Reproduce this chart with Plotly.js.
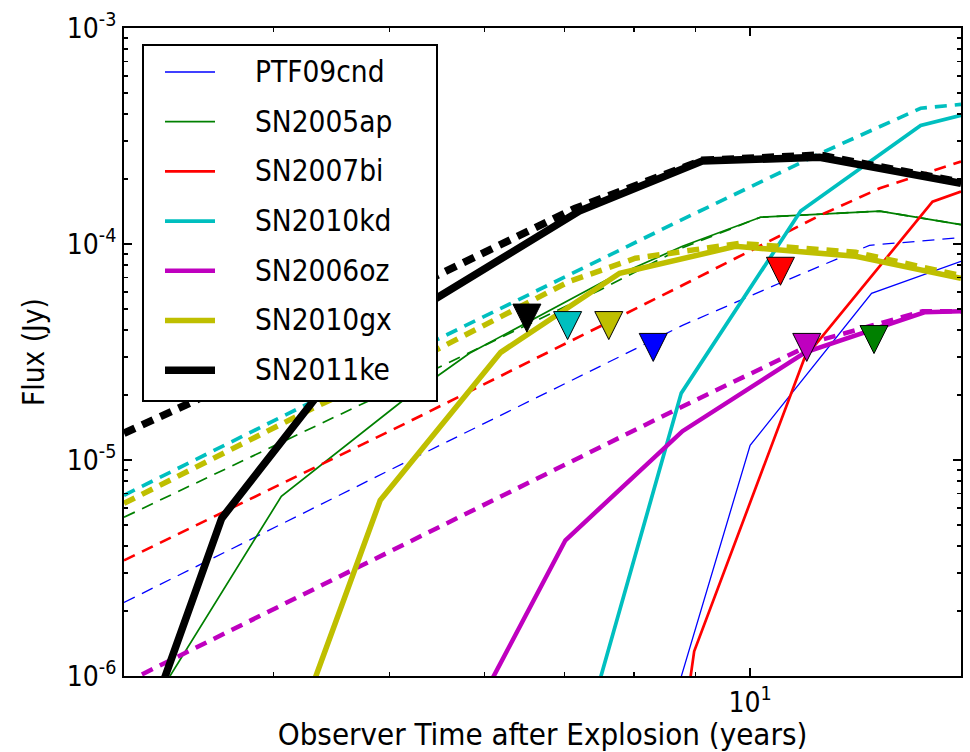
<!DOCTYPE html>
<html>
<head>
<meta charset="utf-8">
<script src="https://cdn.plot.ly/plotly-3.0.1.min.js"></script>
<style>html,body{margin:0;padding:0;background:#fff;}#chart{width:970px;height:752px;}</style>
</head>
<body>
<div id="chart"></div>
<script>
// ---- data (years, Jy) ----
const names = ["PTF09cnd","SN2005ap","SN2007bi","SN2010kd","SN2006oz","SN2010gx","SN2011ke"];

const PTF09cnd_solid_t = [8.64, 10.0, 12.63, 15.0];
const PTF09cnd_solid_f = [7.7e-7, 1.17e-5, 5.91e-5, 8.32e-5];
const PTF09cnd_dash_t  = [3.0, 5.20, 7.82, 8.78, 10.58, 12.58, 15.0];
const PTF09cnd_dash_f  = [2.19e-6, 1.0e-5, 3.05e-5, 4.2e-5, 6.58e-5, 9.86e-5, 1.07e-4];

const SN2005ap_solid_t = [3.146, 4.06, 5.12, 5.83, 7.58, 8.78, 10.2, 12.83, 15.0];
const SN2005ap_solid_f = [6.93e-7, 6.79e-6, 1.87e-5, 3.12e-5, 6.79e-5, 9.76e-5, 1.33e-4, 1.42e-4, 1.23e-4];
const SN2005ap_dash_t  = [3.0, 5.09, 7.48, 8.78, 10.2, 12.83, 15.0];
const SN2005ap_dash_f  = [5.43e-6, 2.19e-5, 6.1e-5, 9.6e-5, 1.33e-4, 1.42e-4, 1.23e-4];

const SN2007bi_solid_t = [8.86, 8.98, 11.10, 14.2, 15.0];
const SN2007bi_solid_f = [7.7e-7, 1.30e-6, 2.96e-5, 1.57e-4, 1.75e-4];
const SN2007bi_dash_t  = [3.0, 5.12, 8.78, 11.45, 12.83, 15.0];
const SN2007bi_dash_f  = [3.43e-6, 1.45e-5, 6.44e-5, 1.36e-4, 1.81e-4, 2.41e-4];

const SN2010kd_solid_t = [7.34, 8.76, 11.02, 13.88, 15.0];
const SN2010kd_solid_f = [6.44e-7, 2.04e-5, 1.42e-4, 3.54e-4, 3.94e-4];
const SN2010kd_dash_t  = [3.0, 5.46, 8.78, 11.45, 13.88, 15.0];
const SN2010kd_dash_f  = [6.87e-6, 3.58e-5, 1.30e-4, 2.63e-4, 4.25e-4, 4.43e-4];

const SN2006oz_solid_t = [5.94, 7.01, 8.78, 11.12, 13.98, 15.0];
const SN2006oz_solid_f = [7.46e-7, 4.25e-6, 1.36e-5, 3.15e-5, 4.83e-5, 4.88e-5];
const SN2006oz_dash_t  = [3.0, 5.19, 8.78, 11.43, 13.93, 15.0];
const SN2006oz_dash_f  = [9.25e-7, 4.2e-6, 1.77e-5, 3.58e-5, 4.88e-5, 4.88e-5];

const SN2010gx_solid_t = [4.20, 4.91, 6.19, 7.78, 9.72, 12.25, 15.0];
const SN2010gx_solid_f = [6.1e-7, 6.51e-6, 3.15e-5, 7.32e-5, 9.75e-5, 8.77e-5, 6.94e-5];
const SN2010gx_dash_t  = [3.0, 4.28, 5.46, 7.06, 8.02, 9.07, 9.8, 12.25, 15.0];
const SN2010gx_dash_f  = [6.3e-6, 1.70e-5, 3.22e-5, 6.7e-5, 8.59e-5, 9.55e-5, 1.007e-4, 9.15e-5, 7.14e-5];

const SN2011ke_solid_t = [3.146, 3.62, 4.52, 5.47, 7.20, 9.12, 11.43, 15.0];
const SN2011ke_solid_f = [6.1e-7, 5.37e-6, 2.6e-5, 5.61e-5, 1.42e-4, 2.42e-4, 2.52e-4, 1.91e-4];
const SN2011ke_dash_t  = [3.0, 3.416, 4.20, 5.46, 7.14, 9.12, 11.43, 15.0];
const SN2011ke_dash_f  = [1.33e-5, 1.85e-5, 3.25e-5, 7.09e-5, 1.46e-4, 2.44e-4, 2.58e-4, 1.93e-4];

// upper limits (downward arrows, value at the tip), same order as names
const limit_t = [8.30, 12.69, 10.6, 7.04, 11.15, 7.62, 6.51];
const limit_f = [2.86e-5, 3.11e-5, 6.44e-5, 3.61e-5, 2.86e-5, 3.61e-5, 3.91e-5];

// axis ticks
const xMajorTicks = [10];
const xMajorText = ["10<sup>1</sup>"];
const xMinorTicks = [3, 4, 5, 6, 7, 8, 9, 20];
const yMajorTicks = [1e-6, 1e-5, 1e-4, 1e-3];
const yMajorText = ["10<sup>-6</sup>", "10<sup>-5</sup>", "10<sup>-4</sup>", "10<sup>-3</sup>"];
const yMinorTicks = [2e-6,3e-6,4e-6,5e-6,6e-6,7e-6,8e-6,9e-6,
                     2e-5,3e-5,4e-5,5e-5,6e-5,7e-5,8e-5,9e-5,
                     2e-4,3e-4,4e-4,5e-4,6e-4,7e-4,8e-4,9e-4];

// ---- styles ----
const colors = ["#0000ff","#008000","#ff0000","#00bfbf","#bf00bf","#bfbf00","#000000"];
const widths = [1.3, 1.7, 2.7, 3.7, 4.5, 5.5, 7.5];
const solidT = [PTF09cnd_solid_t, SN2005ap_solid_t, SN2007bi_solid_t, SN2010kd_solid_t, SN2006oz_solid_t, SN2010gx_solid_t, SN2011ke_solid_t];
const solidF = [PTF09cnd_solid_f, SN2005ap_solid_f, SN2007bi_solid_f, SN2010kd_solid_f, SN2006oz_solid_f, SN2010gx_solid_f, SN2011ke_solid_f];
const dashT = [PTF09cnd_dash_t, SN2005ap_dash_t, SN2007bi_dash_t, SN2010kd_dash_t, SN2006oz_dash_t, SN2010gx_dash_t, SN2011ke_dash_t];
const dashF = [PTF09cnd_dash_f, SN2005ap_dash_f, SN2007bi_dash_f, SN2010kd_dash_f, SN2006oz_dash_f, SN2010gx_dash_f, SN2011ke_dash_f];

const traces = [];
for (let i = 0; i < names.length; i++) {
  traces.push({
    x: solidT[i], y: solidF[i], type: "scatter", mode: "lines", name: names[i],
    showlegend: false, line: {color: colors[i], width: widths[i]}
  });
  traces.push({
    x: dashT[i], y: dashF[i], type: "scatter", mode: "lines", name: names[i] + " model",
    showlegend: false, line: {color: colors[i], width: widths[i], dash: "12px,8px"}
  });
}
for (let i = 0; i < names.length; i++) {
  traces.push({
    x: [limit_t[i]], y: [limit_f[i]], type: "scatter", mode: "markers", name: names[i] + " limit",
    showlegend: false, cliponaxis: true,
    marker: {symbol: "arrow-down", size: 28, color: colors[i], line: {color: "#000", width: 1}}
  });
}

// ---- plot geometry (pixels) ----
const W = 970, H = 752;
const M = {l: 124, r: 9, t: 28, b: 76};
const pw = W - M.l - M.r, ph = H - M.t - M.b;
const px2x = p => (p - M.l) / pw;
const px2y = p => (H - M.b - p) / ph;

// legend drawn as a framed box with line keys and text
const legBox = {x0: 143, x1: 437, y0: 45, y1: 401};
const legRow0 = 72, legStep = 49.7, legKey0 = 165, legKey1 = 215, legText = 253;
const font = "DejaVu Sans Condensed, DejaVu Sans, sans-serif";

const shapes = [{
  type: "rect", xref: "paper", yref: "paper", layer: "above",
  x0: px2x(legBox.x0), x1: px2x(legBox.x1), y0: px2y(legBox.y1), y1: px2y(legBox.y0),
  fillcolor: "#fff", line: {color: "#000", width: 2}
}];
const annotations = [];
for (let i = 0; i < names.length; i++) {
  const yy = px2y(legRow0 + i * legStep);
  shapes.push({
    type: "line", xref: "paper", yref: "paper", layer: "above",
    x0: px2x(legKey0), x1: px2x(legKey1), y0: yy, y1: yy,
    line: {color: colors[i], width: widths[i]}
  });
  annotations.push({
    xref: "paper", yref: "paper", x: px2x(legText), y: yy,
    xanchor: "left", yanchor: "middle", showarrow: false,
    text: names[i], font: {family: font, size: 29.5, color: "#000"}
  });
}

const layout = {
  width: W, height: H,
  margin: {l: M.l, r: M.r, t: M.t, b: M.b, pad: 0},
  paper_bgcolor: "#fff", plot_bgcolor: "#fff",
  font: {family: font, color: "#000", size: 28},
  showlegend: false,
  shapes: shapes,
  annotations: annotations,
  xaxis: {
    type: "log", range: [Math.log10(3), Math.log10(15)],
    tickmode: "array", tickvals: xMajorTicks, ticktext: xMajorText,
    ticks: "inside", ticklen: 8, tickwidth: 1.5, tickcolor: "#000",
    minor: {tickmode: "array", tickvals: xMinorTicks, ticks: "inside", ticklen: 4, tickwidth: 1.5, tickcolor: "#000", showgrid: false},
    showline: true, linecolor: "#000", linewidth: 2, mirror: "allticks",
    showgrid: false, zeroline: false,
    tickfont: {family: font, size: 28, color: "#000"},
    title: {text: "Observer Time after Explosion (years)", font: {family: font, size: 31, color: "#000"}, standoff: 8}
  },
  yaxis: {
    type: "log", range: [-6, -3],
    tickmode: "array", tickvals: yMajorTicks, ticktext: yMajorText,
    ticks: "inside", ticklen: 8, tickwidth: 1.5, tickcolor: "#000",
    minor: {tickmode: "array", tickvals: yMinorTicks, ticks: "inside", ticklen: 4, tickwidth: 1.5, tickcolor: "#000", showgrid: false},
    showline: true, linecolor: "#000", linewidth: 2, mirror: "allticks",
    showgrid: false, zeroline: false,
    tickfont: {family: font, size: 28, color: "#000"},
    title: {text: "Flux (Jy)", font: {family: font, size: 29.5, color: "#000"}, standoff: 13}
  }
};

Plotly.newPlot("chart", traces, layout, {staticPlot: true, displayModeBar: false});
</script>
</body>
</html>
